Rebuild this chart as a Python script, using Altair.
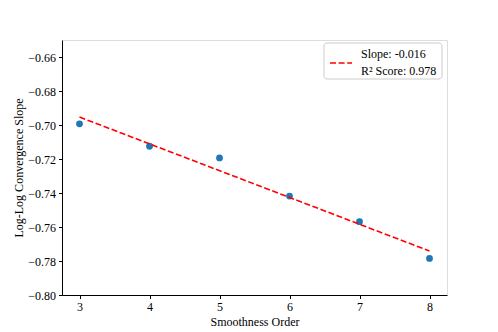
import altair as alt
import pandas as pd

# Data
orders = [3, 4, 5, 6, 7, 8]
slopes = [-0.6993, -0.7125, -0.7194, -0.7418, -0.7569, -0.7785]
legend_lines = ["Slope: -0.016", "R² Score: 0.978"]
y_ticks = [-0.80, -0.78, -0.76, -0.74, -0.72, -0.70, -0.68, -0.66]
x_ticks = [3, 4, 5, 6, 7, 8]

df = pd.DataFrame({"order": orders, "slope": slopes})
FONT = "Liberation Serif"
FS = 12

xs = alt.Scale(domain=[2.75, 8.25], nice=False, zero=False)
ys = alt.Scale(domain=[-0.80, -0.65], nice=False, zero=False)

common = dict(grid=False, tickSize=3.5, tickColor="black", domainColor="black",
              labelColor="black", titleColor="black", labelPadding=3,
              titleFontWeight="normal", labelFont=FONT, titleFont=FONT,
              labelFontSize=FS, titleFontSize=FS, labelOverlap=False,
              labelFlush=False)
xaxis = alt.Axis(values=x_ticks, tickCount=len(x_ticks), title="Smoothness Order",
                 format="d", titlePadding=4, **common)
yaxis = alt.Axis(values=y_ticks, tickCount=len(y_ticks), title="Log-Log Convergence Slope",
                 format=".2f", titlePadding=2, **common)

base = alt.Chart(df)

points = base.mark_circle(size=46, color="#1f77b4", opacity=1).encode(
    x=alt.X("order:Q", scale=xs, axis=xaxis),
    y=alt.Y("slope:Q", scale=ys, axis=yaxis),
)

fit = base.transform_regression("order", "slope", method="linear").mark_line(
    color="red", strokeWidth=1.6, strokeDash=[6, 2.6]
).encode(
    x=alt.X("order:Q", scale=xs),
    y=alt.Y("slope:Q", scale=ys),
)

one = pd.DataFrame({"a": [0]})
legend_box = alt.Chart(one).mark_rect(
    fill="white", fillOpacity=0.8, stroke="#cccccc", strokeWidth=1, cornerRadius=3
).encode(x=alt.value(262), x2=alt.value(380), y=alt.value(3), y2=alt.value(39))

legend_dash = alt.Chart(one).mark_rule(
    color="red", strokeWidth=1.6, strokeDash=[6, 2.6]
).encode(x=alt.value(268), x2=alt.value(290), y=alt.value(23))

legend_t1 = alt.Chart(one).mark_text(
    align="left", baseline="middle", font=FONT, fontSize=FS, color="black"
).encode(x=alt.value(299), y=alt.value(14), text=alt.value(legend_lines[0]))

legend_t2 = alt.Chart(one).mark_text(
    align="left", baseline="middle", font=FONT, fontSize=FS, color="black"
).encode(x=alt.value(299), y=alt.value(31), text=alt.value(legend_lines[1]))

chart = alt.layer(points, fit, legend_box, legend_dash, legend_t1, legend_t2).properties(
    width=385, height=255,
    autosize=alt.AutoSizeParams(type="none"),
    padding={"left": 54, "top": 32, "right": 40, "bottom": 36},
).configure_view(
    stroke="black", strokeWidth=1
).configure(background="white")

chart.save("out.html", embed_options={"renderer": "svg", "actions": False})
